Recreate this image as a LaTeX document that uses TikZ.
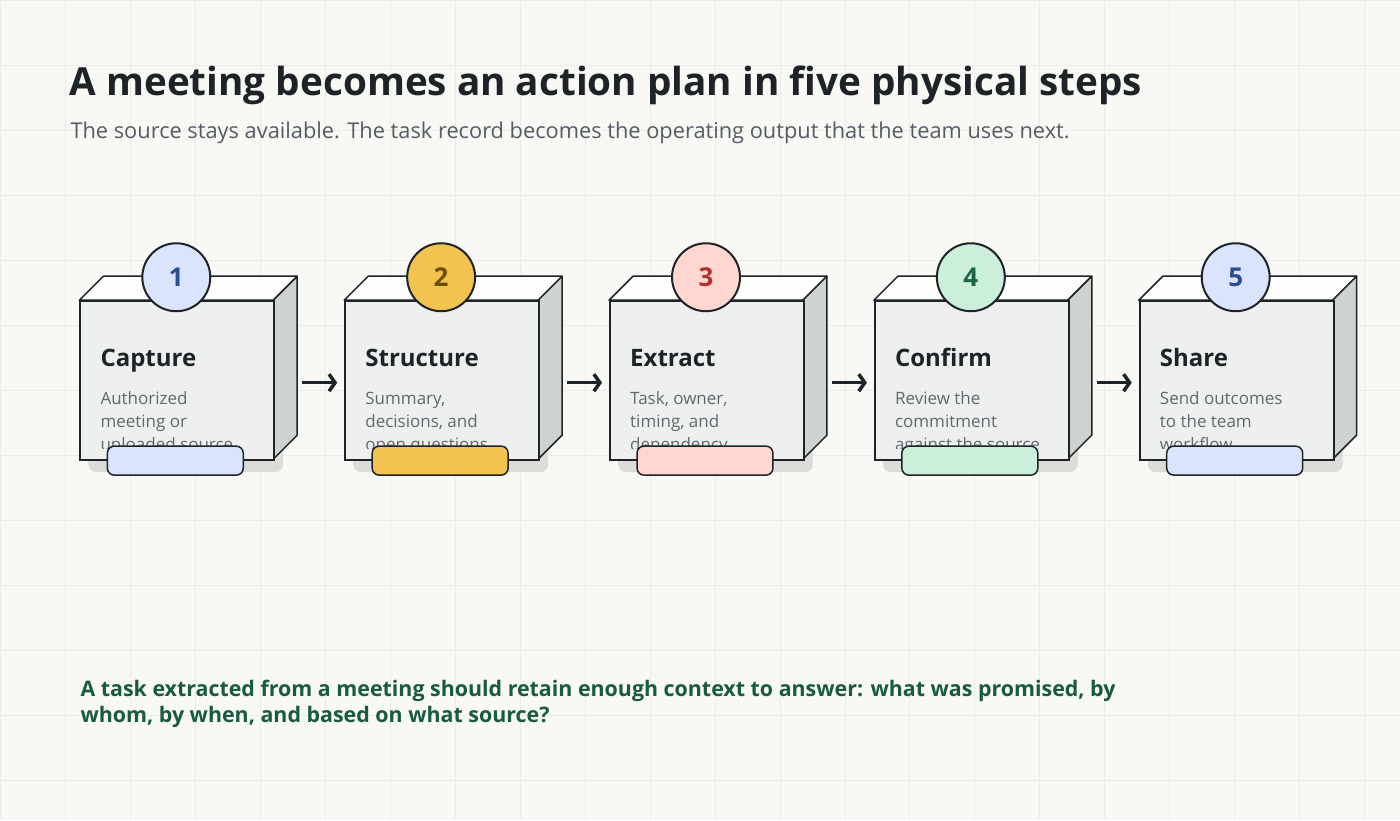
\documentclass[tikz,border=0pt]{standalone}
\usepackage{xcolor}
\usepackage{fontspec}
\setmainfont{Open Sans}
\usepackage{tikz}
\usetikzlibrary{arrows.meta, calc}

\definecolor{paper}{HTML}{F8F8F5}
\definecolor{gridc}{HTML}{ECECE7}
\definecolor{ink}{HTML}{1E2327}
\definecolor{subc}{HTML}{555C63}
\definecolor{descc}{HTML}{62686E}
\definecolor{frontc}{HTML}{EEF0EF}
\definecolor{topc}{HTML}{FDFDFC}
\definecolor{sidec}{HTML}{CFD3D0}
\definecolor{shadowc}{HTML}{DCDDD8}
\definecolor{notec}{HTML}{195A43}
\definecolor{bluefill}{HTML}{DBE4FF}
\definecolor{bluetext}{HTML}{2A4D93}
\definecolor{yellowfill}{HTML}{F2C34F}
\definecolor{yellowtext}{HTML}{6E4F00}
\definecolor{pinkfill}{HTML}{FFD7D0}
\definecolor{pinktext}{HTML}{B0312D}
\definecolor{greenfill}{HTML}{CCEFDC}
\definecolor{greentext}{HTML}{1C6446}

\begin{document}
\begin{tikzpicture}[x=1pt, y=-1pt,
    face/.style={draw=ink, line width=1.5pt, line join=round},
    frontface/.style={draw=ink, fill=frontc, line width=2pt, minimum width=194pt,
        minimum height=159pt, anchor=north west, inner sep=0pt},
    shadowbox/.style={fill=shadowc, rounded corners=8pt},
    pill/.style={draw=ink, line width=1.5pt, rounded corners=7pt},
    badge/.style={circle, draw=ink, line width=2pt, minimum size=68pt, inner sep=0pt,
        font=\fontsize{26}{26}\selectfont\bfseries},
    steptitle/.style={anchor=base west, inner sep=0pt, text=ink,
        font=\fontsize{24}{28}\selectfont\bfseries},
    stepdesc/.style={anchor=base west, inner sep=0pt, text=descc, align=left,
        font=\fontsize{17}{23}\selectfont},
    flow/.style={draw=ink, line width=3.5pt,
        -{Straight Barb[length=6pt, width=17pt, line width=3.5pt]}}]

    % background
    \fill[paper] (0,0) rectangle (1400,820);
    \draw[gridc, line width=0.8pt, step=65pt] (0,0) grid (1400,820);

    \node[anchor=base west, inner sep=0pt, text=ink, font=\fontsize{38.7}{42}\selectfont\bfseries]
        (title) at (69,95) {A meeting becomes an action plan in five physical steps};
    \node[anchor=base west, inner sep=0pt, text=subc, font=\fontsize{21.8}{26}\selectfont]
        (subtitle) at (70,138) {The source stays available. The task record becomes the operating output that the team uses next.};

    % step 1
    \fill[shadowbox] (88,310) rectangle (283,472);
    \filldraw[face, fill=topc] (79,300) -- (103,276) -- (297,276) -- (273,300) -- cycle;
    \filldraw[face, fill=sidec] (273,300) -- (297,276) -- (297,435) -- (273,459) -- cycle;
    \node[frontface] (cap) at (79,300) {};
    \node[steptitle] (captitle) at (100,366) {Capture};
    \begin{scope}
        \clip (79,300) rectangle (273,448);
        \node[stepdesc] (capdesc) at (100,450) {Authorized\\meeting or\\uploaded source};
    \end{scope}
    \filldraw[pill, fill=bluefill] (107,446) rectangle (243,475);
    \node[badge, fill=bluefill, text=bluetext] (capnum) at (176,277) {1};

    % step 2
    \fill[shadowbox] (353,310) rectangle (548,472);
    \filldraw[face, fill=topc] (344,300) -- (368,276) -- (562,276) -- (538,300) -- cycle;
    \filldraw[face, fill=sidec] (538,300) -- (562,276) -- (562,435) -- (538,459) -- cycle;
    \node[frontface] (str) at (344,300) {};
    \node[steptitle] (strtitle) at (365,366) {Structure};
    \begin{scope}
        \clip (344,300) rectangle (538,448);
        \node[stepdesc] (strdesc) at (365,450) {Summary,\\decisions, and\\open questions};
    \end{scope}
    \filldraw[pill, fill=yellowfill] (372,446) rectangle (508,475);
    \node[badge, fill=yellowfill, text=yellowtext] (strnum) at (441,277) {2};

    % step 3
    \fill[shadowbox] (618,310) rectangle (813,472);
    \filldraw[face, fill=topc] (609,300) -- (633,276) -- (827,276) -- (803,300) -- cycle;
    \filldraw[face, fill=sidec] (803,300) -- (827,276) -- (827,435) -- (803,459) -- cycle;
    \node[frontface] (ext) at (609,300) {};
    \node[steptitle] (exttitle) at (630,366) {Extract};
    \begin{scope}
        \clip (609,300) rectangle (803,448);
        \node[stepdesc] (extdesc) at (630,450) {Task, owner,\\timing, and\\dependency};
    \end{scope}
    \filldraw[pill, fill=pinkfill] (637,446) rectangle (773,475);
    \node[badge, fill=pinkfill, text=pinktext] (extnum) at (706,277) {3};

    % step 4
    \fill[shadowbox] (883,310) rectangle (1078,472);
    \filldraw[face, fill=topc] (874,300) -- (898,276) -- (1092,276) -- (1068,300) -- cycle;
    \filldraw[face, fill=sidec] (1068,300) -- (1092,276) -- (1092,435) -- (1068,459) -- cycle;
    \node[frontface] (con) at (874,300) {};
    \node[steptitle] (contitle) at (895,366) {Confirm};
    \begin{scope}
        \clip (874,300) rectangle (1068,448);
        \node[stepdesc] (condesc) at (895,450) {Review the\\commitment\\against the source};
    \end{scope}
    \filldraw[pill, fill=greenfill] (902,446) rectangle (1038,475);
    \node[badge, fill=greenfill, text=greentext] (connum) at (971,277) {4};

    % step 5
    \fill[shadowbox] (1148,310) rectangle (1343,472);
    \filldraw[face, fill=topc] (1139,300) -- (1163,276) -- (1357,276) -- (1333,300) -- cycle;
    \filldraw[face, fill=sidec] (1333,300) -- (1357,276) -- (1357,435) -- (1333,459) -- cycle;
    \node[frontface] (sha) at (1139,300) {};
    \node[steptitle] (shatitle) at (1160,366) {Share};
    \begin{scope}
        \clip (1139,300) rectangle (1333,448);
        \node[stepdesc] (shadesc) at (1160,450) {Send outcomes\\to the team\\workflow};
    \end{scope}
    \filldraw[pill, fill=bluefill] (1167,446) rectangle (1303,475);
    \node[badge, fill=bluefill, text=bluetext] (shanum) at (1236,277) {5};

    % arrows
    \draw[flow] ([xshift=27pt, yshift=-2pt]cap.east) -- ([xshift=-7pt, yshift=-2pt]str.west);
    \draw[flow] ([xshift=27pt, yshift=-2pt]str.east) -- ([xshift=-7pt, yshift=-2pt]ext.west);
    \draw[flow] ([xshift=27pt, yshift=-2pt]ext.east) -- ([xshift=-7pt, yshift=-2pt]con.west);
    \draw[flow] ([xshift=27pt, yshift=-2pt]con.east) -- ([xshift=-7pt, yshift=-2pt]sha.west);

    \node[anchor=base west, inner sep=0pt, text=notec, align=left,
        font=\fontsize{21.4}{27}\selectfont\bfseries] (note) at (80,723)
        {A task extracted from a meeting should retain enough context to answer: what was promised, by\\whom, by when, and based on what source?};
\end{tikzpicture}
\end{document}
